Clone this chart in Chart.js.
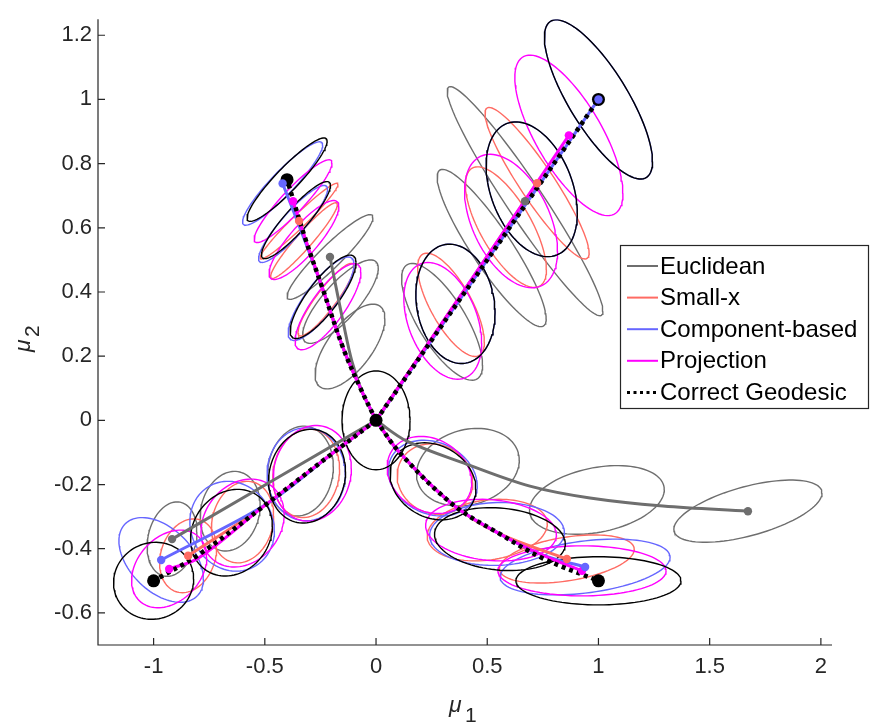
<!DOCTYPE html>
<html><head><meta charset="utf-8">
<script src="https://cdn.jsdelivr.net/npm/chart.js@4/dist/chart.umd.min.js"></script>
<style>html,body{margin:0;padding:0;background:#fff}#wrap{width:872px;height:725px}</style>
</head><body><div id="wrap"><canvas id="c" width="872" height="725"></canvas></div>
<script>
// ---------- data ----------
const xTicks = [-1, -0.5, 0, 0.5, 1, 1.5, 2];
const yTicks = [-0.6, -0.4, -0.2, 0, 0.2, 0.4, 0.6, 0.8, 1, 1.2];
const xRange = [-1.25, 2.05];
const yRange = [-0.7, 1.25];
const seriesNames = ['Euclidean', 'Small-x', 'Component-based', 'Projection', 'Correct Geodesic'];
const seriesColors = ['#6e6e6e', '#ff6b63', '#6666ff', '#ff00ff', '#000000'];

// ellipses: [centre x, centre y, sd x, sd y, correlation]
const euclidEllipses = [
  [0.297, 0.307, 0.182, 0.182, -0.74], [0.52, 0.537, 0.245, 0.245, -0.9], [0.67, 0.683, 0.35, 0.357, -0.96],
  [-0.117, 0.23, 0.157, 0.132, 0.66], [-0.16, 0.37, 0.17, 0.13, 0.8], [-0.207, 0.509, 0.193, 0.132, 0.93],
  [-0.34, -0.158, 0.148, 0.14, 0.1], [-0.656, -0.283, 0.135, 0.124, 0.15], [-0.917, -0.37, 0.112, 0.116, 0.2],
  [0.413, -0.146, 0.231, 0.121, 0.18], [0.993, -0.248, 0.303, 0.107, 0.3], [1.672, -0.283, 0.333, 0.097, 0.58]
];
const smallxEllipses = [
  [0.337, 0.36, 0.15, 0.161, -0.72], [0.584, 0.602, 0.182, 0.188, -0.7], [0.724, 0.739, 0.234, 0.236, -0.92],
  [-0.225, 0.376, 0.126, 0.113, 0.9], [-0.324, 0.56, 0.15, 0.118, 0.95], [-0.346, 0.621, 0.175, 0.118, 0.97],
  [-0.314, -0.165, 0.15, 0.138, 0.1], [-0.6, -0.317, 0.14, 0.127, 0.15], [-0.845, -0.422, 0.128, 0.115, 0.2],
  [0.265, -0.183, 0.17, 0.11, -0.1], [0.5, -0.342, 0.27, 0.096, 0.2], [0.858, -0.432, 0.303, 0.075, 0.4]
];
const componentEllipses = [
  [0.357, 0.363, 0.178, 0.186, -0.15], [0.70, 0.72, 0.205, 0.21, -0.35], [1, 1, 0.243, 0.248, -0.78],
  [-0.247, 0.379, 0.148, 0.13, 0.82], [-0.373, 0.612, 0.155, 0.12, 0.9], [-0.42, 0.738, 0.18, 0.13, 0.92],
  [-0.314, -0.168, 0.176, 0.145, 0.0], [-0.647, -0.33, 0.19, 0.14, -0.1], [-0.966, -0.435, 0.19, 0.132, -0.45],
  [0.255, -0.18, 0.2, 0.118, -0.2], [0.544, -0.354, 0.303, 0.098, 0.05], [0.94, -0.457, 0.382, 0.087, 0.35]
];
const projectionEllipses = [
  [0.30, 0.31, 0.175, 0.182, -0.38], [0.607, 0.621, 0.209, 0.208, -0.45], [0.867, 0.888, 0.243, 0.25, -0.72],
  [-0.216, 0.354, 0.148, 0.134, 0.8], [-0.324, 0.562, 0.157, 0.123, 0.85], [-0.373, 0.683, 0.175, 0.129, 0.92],
  [-0.287, -0.165, 0.176, 0.149, 0.1], [-0.6, -0.32, 0.187, 0.137, 0.2], [-0.93, -0.463, 0.169, 0.121, 0.3],
  [0.24, -0.17, 0.19, 0.12, -0.2], [0.517, -0.342, 0.294, 0.096, -0.15], [0.926, -0.469, 0.378, 0.078, 0]
];
const geodesicEllipses = [
  [0, 0, 0.153, 0.154, 0],
  [0.357, 0.363, 0.178, 0.186, -0.15], [0.70, 0.72, 0.205, 0.21, -0.35], [1, 1, 0.243, 0.248, -0.78],
  [-0.238, 0.385, 0.148, 0.13, 0.82], [-0.36, 0.624, 0.155, 0.12, 0.9], [-0.4, 0.75, 0.18, 0.13, 0.92],
  [-0.31, -0.174, 0.173, 0.146, 0.1], [-0.65, -0.35, 0.184, 0.135, 0.15], [-1, -0.5, 0.18, 0.12, 0.05],
  [0.256, -0.19, 0.193, 0.12, -0.2], [0.557, -0.37, 0.294, 0.098, -0.15], [1, -0.5, 0.371, 0.075, 0]
];

// paths from the origin (one list per branch)
const euclidPaths = [
  [[0, 0], [0.67, 0.683]],
  [[0, 0], [-0.063, 0.09], [-0.108, 0.183], [-0.148, 0.307], [-0.18, 0.416], [-0.207, 0.509]],
  [[0, 0], [-0.917, -0.37]],
  [[0, 0], [0.139, -0.065], [0.409, -0.137], [0.692, -0.205], [0.962, -0.242], [1.29, -0.267], [1.672, -0.283]]
];
const smallxPaths = [
  [[0, 0], [0.724, 0.739]],
  [[0, 0], [-0.07, 0.1], [-0.145, 0.22], [-0.24, 0.41], [-0.346, 0.621]],
  [[0, 0], [-0.2, -0.105], [-0.5, -0.265], [-0.845, -0.422]],
  [[0, 0], [0.108, -0.102], [0.35, -0.265], [0.557, -0.354], [0.858, -0.432]]
];
const componentPaths = [
  [[0, 0], [1, 1]],
  [[0, 0], [-0.07, 0.1], [-0.145, 0.22], [-0.24, 0.41], [-0.32, 0.56], [-0.42, 0.738]],
  [[0, 0], [-0.2, -0.105], [-0.49, -0.26], [-0.966, -0.435]],
  [[0, 0], [0.108, -0.102], [0.35, -0.265], [0.557, -0.354], [0.75, -0.42], [0.94, -0.457]]
];
const projectionPaths = [
  [[0, 0], [0.867, 0.888]],
  [[0, 0], [-0.07, 0.1], [-0.145, 0.22], [-0.24, 0.41], [-0.315, 0.56], [-0.373, 0.683]],
  [[0, 0], [-0.2, -0.105], [-0.5, -0.265], [-0.8, -0.43], [-0.93, -0.463]],
  [[0, 0], [0.108, -0.102], [0.35, -0.265], [0.557, -0.354], [0.75, -0.42], [0.926, -0.469]]
];
const geodesicPaths = [
  [[0, 0], [1, 1]],
  [[0, 0], [-0.07, 0.1], [-0.145, 0.22], [-0.24, 0.41], [-0.315, 0.56], [-0.4, 0.75]],
  [[0, 0], [-0.2, -0.105], [-0.5, -0.265], [-0.8, -0.42], [-1, -0.5]],
  [[0, 0], [0.108, -0.102], [0.35, -0.265], [0.557, -0.354], [0.75, -0.43], [1, -0.5]]
];
const startPoint = [0, 0];

// ---------- build datasets ----------
function ellipseOutline(e) {
  const [cx, cy, sx, sy, r] = e;
  const l21 = r * sy, l22 = sy * Math.sqrt(1 - r * r);
  const pts = [];
  for (let k = 0; k <= 96; k++) {
    const t = 2 * Math.PI * k / 96;
    pts.push({ x: cx + sx * Math.cos(t), y: cy + l21 * Math.cos(t) + l22 * Math.sin(t) });
  }
  return pts;
}
const toXY = p => ({ x: p[0], y: p[1] });
const seq = [];
const ellipseSets = [euclidEllipses, smallxEllipses, componentEllipses, projectionEllipses, geodesicEllipses];
const pathSets = [euclidPaths, smallxPaths, componentPaths, projectionPaths, geodesicPaths];
ellipseSets.forEach((set, m) => set.forEach(e => seq.push({
  data: ellipseOutline(e), borderColor: seriesColors[m], borderWidth: 1.4, showLine: true, pointRadius: 0, fill: false, tension: 0
})));
pathSets.forEach((set, m) => set.forEach(p => seq.push({
  data: p.map(toXY), borderColor: seriesColors[m], borderWidth: m === 4 ? 4.5 : 3,
  borderDash: m === 4 ? [4, 4] : [], borderCapStyle: 'butt', showLine: true, pointRadius: 0, fill: false,
  tension: 0.35
})));
// black endpoint dots
seq.push({ data: [toXY(startPoint)].concat(geodesicPaths.map(p => toXY(p[p.length - 1]))),
  showLine: false, pointRadius: 6.5, pointBackgroundColor: '#000', pointBorderWidth: 0 });
[0, 1, 3, 2].forEach(m => seq.push({ data: pathSets[m].map(p => toXY(p[p.length - 1])),
  showLine: false, pointRadius: 4.2, pointBackgroundColor: seriesColors[m], pointBorderWidth: 0 }));
const total = seq.length;
seq.forEach((d, i) => { d.order = total - i; });

// ---------- custom decorations ----------
const FONT = '"Liberation Sans", Arial, Helvetica, sans-serif';
const deco = {
  id: 'deco',
  afterDraw(chart) {
    const ctx = chart.ctx, a = chart.chartArea, xs = chart.scales.x, ys = chart.scales.y;
    ctx.save();
    ctx.strokeStyle = '#262626'; ctx.lineWidth = 1.2;
    ctx.beginPath();
    ctx.moveTo(a.left, a.top); ctx.lineTo(a.left, a.bottom); ctx.lineTo(a.right, a.bottom);
    ctx.stroke();
    ctx.beginPath();
    xTicks.forEach(v => { const px = xs.getPixelForValue(v); ctx.moveTo(px, a.bottom); ctx.lineTo(px, a.bottom - 7); });
    yTicks.forEach(v => { const py = ys.getPixelForValue(v); ctx.moveTo(a.left, py); ctx.lineTo(a.left + 7, py); });
    ctx.stroke();
    // axis titles
    ctx.fillStyle = '#262626';
    ctx.textBaseline = 'alphabetic'; ctx.textAlign = 'left';
    ctx.font = 'italic 23px ' + FONT; ctx.fillText('\u03bc', 449, 712);
    ctx.font = '21px ' + FONT; ctx.fillText('1', 465, 722);
    ctx.save(); ctx.translate(30, 352); ctx.rotate(-Math.PI / 2);
    ctx.font = 'italic 23px ' + FONT; ctx.fillText('\u03bc', 0, 0);
    ctx.font = '21px ' + FONT; ctx.fillText('2', 15, 9);
    ctx.restore();
    // legend
    const lx = 620, ly = 245, lw = 248, lh = 163;
    ctx.fillStyle = '#fff'; ctx.fillRect(lx, ly, lw, lh);
    ctx.strokeStyle = '#262626'; ctx.lineWidth = 1.2; ctx.strokeRect(lx + 0.5, ly + 0.5, lw, lh);
    ctx.font = '24px ' + FONT; ctx.textBaseline = 'middle';
    seriesNames.forEach((name, i) => {
      const yy = 266 + i * 31.6;
      ctx.strokeStyle = seriesColors[i];
      ctx.lineWidth = i === 4 ? 3 : 2;
      ctx.setLineDash(i === 4 ? [3, 3.5] : []);
      ctx.beginPath(); ctx.moveTo(627, yy); ctx.lineTo(658, yy); ctx.stroke();
      ctx.setLineDash([]);
      ctx.fillStyle = '#000'; ctx.fillText(name, 660, yy + 1);
    });
    ctx.restore();
  }
};

new Chart(document.getElementById('c'), {
  type: 'scatter',
  data: { datasets: seq },
  options: {
    responsive: false, animation: false, devicePixelRatio: 1,
    layout: { padding: { left: 0, right: 40, top: 15, bottom: 0 } },
    plugins: { legend: { display: false }, tooltip: { enabled: false } },
    scales: {
      x: {
        type: 'linear', min: xRange[0], max: xRange[1],
        grid: { display: false, drawTicks: false }, border: { display: false },
        afterBuildTicks: s => { s.ticks = xTicks.map(v => ({ value: v })); },
        afterFit: s => { s.height = 80; },
        ticks: { autoSkip: false, maxRotation: 0, padding: 9, color: '#262626',
          font: { family: FONT, size: 22 }, callback: v => String(v) }
      },
      y: {
        type: 'linear', min: yRange[0], max: yRange[1],
        grid: { display: false, drawTicks: false }, border: { display: false },
        afterBuildTicks: s => { s.ticks = yTicks.map(v => ({ value: v })); },
        afterFit: s => { s.width = 98; },
        ticks: { autoSkip: false, padding: 6, color: '#262626',
          font: { family: FONT, size: 22 }, callback: v => String(v) }
      }
    }
  },
  plugins: [deco]
});
</script>
</body></html>
